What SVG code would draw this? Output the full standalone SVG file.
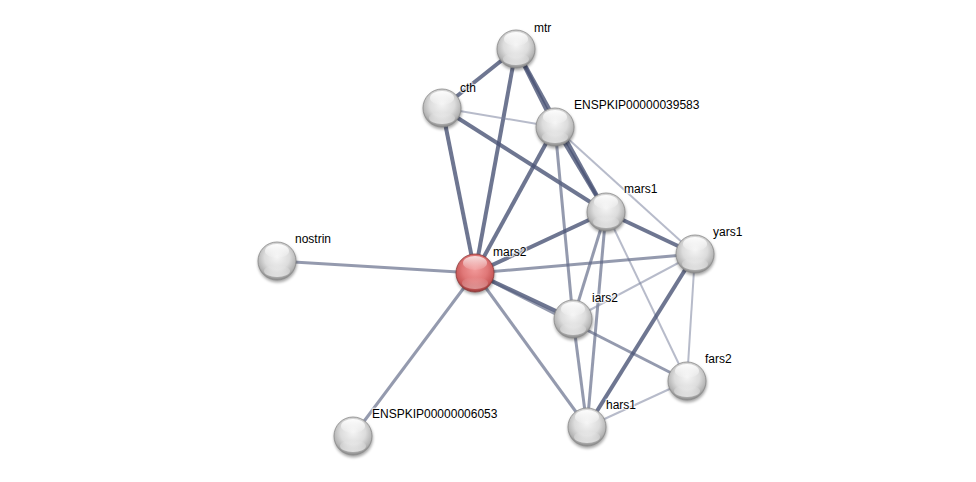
<svg xmlns="http://www.w3.org/2000/svg" width="976" height="482" viewBox="0 0 976 482">
<defs>
<radialGradient id="gGray" cx="50%" cy="40%" r="60%">
<stop offset="0" stop-color="#f4f4f4"/>
<stop offset="0.55" stop-color="#dcdcdc"/>
<stop offset="0.85" stop-color="#b4b4b4"/>
<stop offset="1" stop-color="#868686"/>
</radialGradient>
<radialGradient id="gRed" cx="50%" cy="40%" r="60%">
<stop offset="0" stop-color="#f29a9a"/>
<stop offset="0.55" stop-color="#e07878"/>
<stop offset="0.85" stop-color="#c85858"/>
<stop offset="1" stop-color="#8e3434"/>
</radialGradient>
<linearGradient id="gHi" x1="0" y1="0" x2="0" y2="1">
<stop offset="0" stop-color="#ffffff" stop-opacity="0.95"/>
<stop offset="1" stop-color="#ffffff" stop-opacity="0.1"/>
</linearGradient>
<linearGradient id="gLow" x1="0" y1="0" x2="0" y2="1">
<stop offset="0" stop-color="#ffffff" stop-opacity="0"/>
<stop offset="1" stop-color="#ffffff" stop-opacity="0.6"/>
</linearGradient>
<filter id="sh" x="-50%" y="-50%" width="200%" height="200%">
<feGaussianBlur stdDeviation="1.5"/>
</filter>
<g id="sphere">
<circle cx="0.5" cy="2" r="19.5" fill="#000" opacity="0.35" filter="url(#sh)"/>
<circle r="19" fill="url(#gGray)" stroke="#8c8c8c" stroke-width="0.8"/>
<ellipse cx="0" cy="-10" rx="12" ry="7" fill="url(#gHi)"/>
<ellipse cx="0" cy="10" rx="13" ry="6" fill="url(#gLow)"/>
</g>
<g id="sphereRed">
<circle cx="0.5" cy="2" r="19.5" fill="#000" opacity="0.35" filter="url(#sh)"/>
<circle r="19" fill="url(#gRed)" stroke="#8e3a3a" stroke-width="0.8"/>
<ellipse cx="0" cy="-10" rx="12" ry="7" fill="url(#gHi)" opacity="0.8"/>
<ellipse cx="0" cy="10" rx="13" ry="6" fill="url(#gLow)" opacity="0.6"/>
</g>
</defs>
<style>
.e1{stroke:#4a5475;stroke-width:4;stroke-opacity:0.8;fill:none}
.e2{stroke:#5a6482;stroke-width:3;stroke-opacity:0.65;fill:none}
.e3{stroke:#7c849f;stroke-width:2;stroke-opacity:0.55;fill:none}
.lbl{font-family:"Liberation Sans",Arial,sans-serif;font-size:12px;fill:#000;paint-order:stroke;stroke:#ffffff;stroke-width:2.5;stroke-opacity:0.7}
</style>
<rect width="976" height="482" fill="#ffffff"/>
<g id="edges">
<line class="e1" x1="516" y1="49" x2="442" y2="108"/>
<line class="e1" x1="516" y1="49" x2="475" y2="273"/>
<line class="e1" x1="516" y1="49" x2="555" y2="127"/>
<line class="e1" x1="516" y1="49" x2="606" y2="212"/>
<line class="e3" x1="442" y1="108" x2="555" y2="127"/>
<line class="e1" x1="442" y1="108" x2="475" y2="273"/>
<line class="e1" x1="442" y1="108" x2="606" y2="212"/>
<line class="e1" x1="555" y1="127" x2="475" y2="273"/>
<line class="e1" x1="555" y1="127" x2="606" y2="212"/>
<line class="e3" x1="555" y1="127" x2="695" y2="254"/>
<line class="e2" x1="555" y1="127" x2="573" y2="319"/>
<line class="e1" x1="606" y1="212" x2="475" y2="273"/>
<line class="e1" x1="606" y1="212" x2="695" y2="254"/>
<line class="e2" x1="606" y1="212" x2="573" y2="319"/>
<line class="e2" x1="606" y1="212" x2="587" y2="427"/>
<line class="e3" x1="606" y1="212" x2="687" y2="381"/>
<line class="e2" x1="475" y1="273" x2="695" y2="254"/>
<line class="e1" x1="475" y1="273" x2="573" y2="319"/>
<line class="e2" x1="475" y1="273" x2="687" y2="381"/>
<line class="e2" x1="475" y1="273" x2="587" y2="427"/>
<line class="e2" x1="475" y1="273" x2="277" y2="261"/>
<line class="e2" x1="475" y1="273" x2="353" y2="436"/>
<line class="e3" x1="695" y1="254" x2="573" y2="319"/>
<line class="e1" x1="695" y1="254" x2="587" y2="427"/>
<line class="e3" x1="695" y1="254" x2="687" y2="381"/>
<line class="e2" x1="573" y1="319" x2="587" y2="427"/>
<line class="e3" x1="687" y1="381" x2="587" y2="427"/>
</g>
<g id="n-mtr"><use href="#sphere" x="516" y="49"/><text class="lbl" x="534" y="32">mtr</text></g>
<g id="n-cth"><use href="#sphere" x="442" y="108"/><text class="lbl" x="460" y="92">cth</text></g>
<g id="n-ENSPKIP00000039583"><use href="#sphere" x="555" y="127"/><text class="lbl" x="574" y="109">ENSPKIP00000039583</text></g>
<g id="n-mars1"><use href="#sphere" x="606" y="212"/><text class="lbl" x="624" y="193">mars1</text></g>
<g id="n-yars1"><use href="#sphere" x="695" y="254"/><text class="lbl" x="713" y="236">yars1</text></g>
<g id="n-nostrin"><use href="#sphere" x="277" y="261"/><text class="lbl" x="295" y="243">nostrin</text></g>
<g id="n-mars2"><use href="#sphereRed" x="475" y="273"/><text class="lbl" x="493" y="256">mars2</text></g>
<g id="n-iars2"><use href="#sphere" x="573" y="319"/><text class="lbl" x="592" y="302">iars2</text></g>
<g id="n-fars2"><use href="#sphere" x="687" y="381"/><text class="lbl" x="705" y="363">fars2</text></g>
<g id="n-hars1"><use href="#sphere" x="587" y="427"/><text class="lbl" x="606" y="409">hars1</text></g>
<g id="n-ENSPKIP00000006053"><use href="#sphere" x="353" y="436"/><text class="lbl" x="372" y="418">ENSPKIP00000006053</text></g>
</svg>
